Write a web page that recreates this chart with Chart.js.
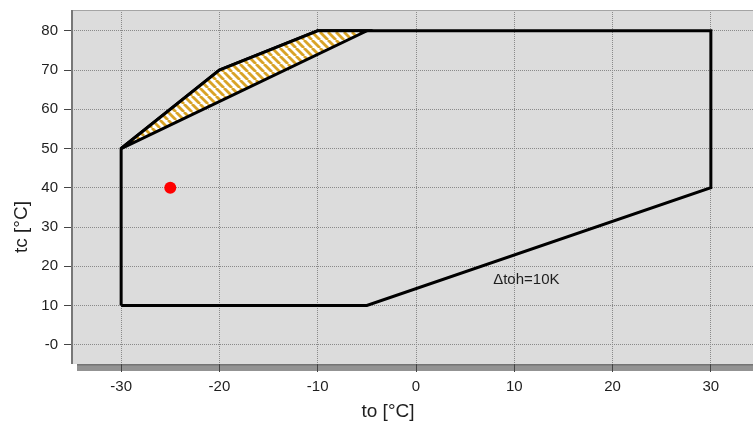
<!DOCTYPE html>
<html>
<head>
    <title>Operating envelope</title>
    <script src="https://cdn.jsdelivr.net/npm/chart.js"></script>
    <style>
        body {
            margin: 0;
            background-color: #ffffff;
            overflow: hidden;
        }
        #wrap {
            position: relative;
            width: 770px;
            height: 424px;
        }
    </style>
</head>
<body>
    <div id="wrap"><canvas id="envelopeChart"></canvas></div>

    <script>
        // envelope outline (to, tc), closed
        var envelopeTo = [-30, -5, 30, 30, -10, -20, -30, -30];
        var envelopeTc = [10, 10, 40, 80, 80, 70, 50, 10];

        // hatched zone in the upper left corner
        var hatchTo = [-30, -20, -10, -5, -30];
        var hatchTc = [50, 70, 80, 80, 50];

        // operating point
        var pointTo = [-25];
        var pointTc = [40];

        // note inside the envelope
        var noteTo = [7.85];
        var noteTc = [16.6];
        var noteText = ['\u0394toh=10K'];

        var xTicks = [-30, -20, -10, 0, 10, 20, 30];
        var yTicks = [0, 10, 20, 30, 40, 50, 60, 70, 80];

        var xTitle = 'to [\u00b0C]';
        var yTitle = 'tc [\u00b0C]';

        function toPoints(xs, ys) {
            return xs.map(function(x, i) { return { x: x, y: ys[i] }; });
        }

        // white background with goldenrod diagonal stripes
        function makeStripes() {
            var n = 8;
            var c = document.createElement('canvas');
            c.width = n;
            c.height = n;
            var g = c.getContext('2d');
            g.fillStyle = '#ffffff';
            g.fillRect(0, 0, n, n);
            g.strokeStyle = '#d9a326';
            g.lineWidth = 2.8;
            [-n, 0, n].forEach(function(k) {
                g.beginPath();
                g.moveTo(k, 0);
                g.lineTo(k + n, n);
                g.stroke();
            });
            return g.createPattern(c, 'repeat');
        }

        var font = "'Liberation Sans', Arial, sans-serif";

        var plotFrame = {
            id: 'plotFrame',
            beforeDraw: function(chart) {
                var a = chart.chartArea;
                var ctx = chart.ctx;
                ctx.save();
                // drop shadow
                ctx.fillStyle = '#939393';
                ctx.fillRect(a.left + 5, a.bottom, a.right - a.left, 7);
                ctx.fillRect(a.right, a.top + 5, 7, a.bottom - a.top);
                ctx.fillStyle = '#747474';
                ctx.fillRect(a.left + 5, a.bottom, a.right - a.left, 1.5);
                // plot background
                ctx.fillStyle = '#dcdcdc';
                ctx.fillRect(a.left, a.top, a.right - a.left, a.bottom - a.top);
                ctx.restore();
            },
            beforeDatasetsDraw: function(chart) {
                var a = chart.chartArea;
                var ctx = chart.ctx;
                ctx.save();
                ctx.strokeStyle = '#a4a4a4';
                ctx.lineWidth = 1;
                ctx.beginPath();
                ctx.moveTo(a.left, a.top + 0.5);
                ctx.lineTo(a.right, a.top + 0.5);
                ctx.stroke();
                ctx.strokeStyle = '#777777';
                ctx.lineWidth = 2;
                ctx.beginPath();
                ctx.moveTo(a.left, a.top);
                ctx.lineTo(a.left, a.bottom);
                ctx.stroke();
                ctx.restore();
            },
            afterDraw: function(chart) {
                var a = chart.chartArea;
                var ctx = chart.ctx;
                var xs = chart.scales.x;
                var ys = chart.scales.y;
                ctx.save();
                ctx.fillStyle = '#1e1e1e';
                ctx.font = '15px ' + font;
                ctx.textAlign = 'left';
                ctx.textBaseline = 'middle';
                noteText.forEach(function(t, i) {
                    ctx.fillText(t, xs.getPixelForValue(noteTo[i]), ys.getPixelForValue(noteTc[i]));
                });
                // axis titles
                ctx.font = '19px ' + font;
                ctx.textAlign = 'center';
                ctx.fillText(xTitle, a.left + 316, a.bottom + 48);
                ctx.translate(22, a.top + 217);
                ctx.rotate(-Math.PI / 2);
                ctx.fillText(yTitle, 0, 0);
                ctx.restore();
            }
        };

        var ctx = document.getElementById('envelopeChart').getContext('2d');
        var envelopeChart = new Chart(ctx, {
            type: 'scatter',
            data: {
                datasets: [{
                    data: toPoints(hatchTo, hatchTc),
                    showLine: true,
                    fill: 'shape',
                    backgroundColor: makeStripes(),
                    borderColor: '#000000',
                    borderWidth: 3,
                    borderJoinStyle: 'miter',
                    pointRadius: 0,
                    tension: 0
                }, {
                    data: toPoints(envelopeTo, envelopeTc),
                    showLine: true,
                    fill: false,
                    borderColor: '#000000',
                    borderWidth: 3,
                    borderJoinStyle: 'miter',
                    pointRadius: 0,
                    tension: 0
                }, {
                    data: toPoints(pointTo, pointTc),
                    showLine: false,
                    pointRadius: 6,
                    pointBackgroundColor: '#ff0000',
                    pointBorderWidth: 0
                }]
            },
            options: {
                responsive: true,
                maintainAspectRatio: false,
                animation: false,
                layout: { padding: { top: 10, right: 10, left: 0, bottom: 0 } },
                plugins: {
                    legend: { display: false },
                    tooltip: { enabled: false }
                },
                scales: {
                    x: {
                        type: 'linear',
                        min: -35,
                        max: 35,
                        afterBuildTicks: function(s) { s.ticks = xTicks.map(function(v) { return { value: v }; }); },
                        afterFit: function(s) {
                            s.height = 60;
                            s.paddingLeft = 0;
                            s.paddingRight = 0;
                        },
                        border: { display: false, dash: [1, 1] },
                        grid: {
                            color: '#8a8a8a',
                            lineWidth: 1,
                            tickLength: 8,
                            tickColor: '#444444',
                            tickBorderDash: []
                        },
                        ticks: {
                            color: '#1e1e1e',
                            padding: 6,
                            maxRotation: 0,
                            font: { size: 15, family: font }
                        }
                    },
                    y: {
                        type: 'linear',
                        min: -4.9,
                        max: 85.3,
                        afterBuildTicks: function(s) { s.ticks = yTicks.map(function(v) { return { value: v }; }); },
                        afterFit: function(s) {
                            s.width = 72;
                            s.paddingTop = 0;
                            s.paddingBottom = 0;
                        },
                        border: { display: false, dash: [1, 1] },
                        grid: {
                            color: '#8a8a8a',
                            lineWidth: 1,
                            tickLength: 8,
                            tickColor: '#444444',
                            tickBorderDash: []
                        },
                        ticks: {
                            color: '#1e1e1e',
                            padding: 6,
                            font: { size: 15, family: font },
                            callback: function(v) { return v === 0 ? '-0' : String(v); }
                        }
                    }
                }
            },
            plugins: [plotFrame]
        });
    </script>
</body>
</html>
